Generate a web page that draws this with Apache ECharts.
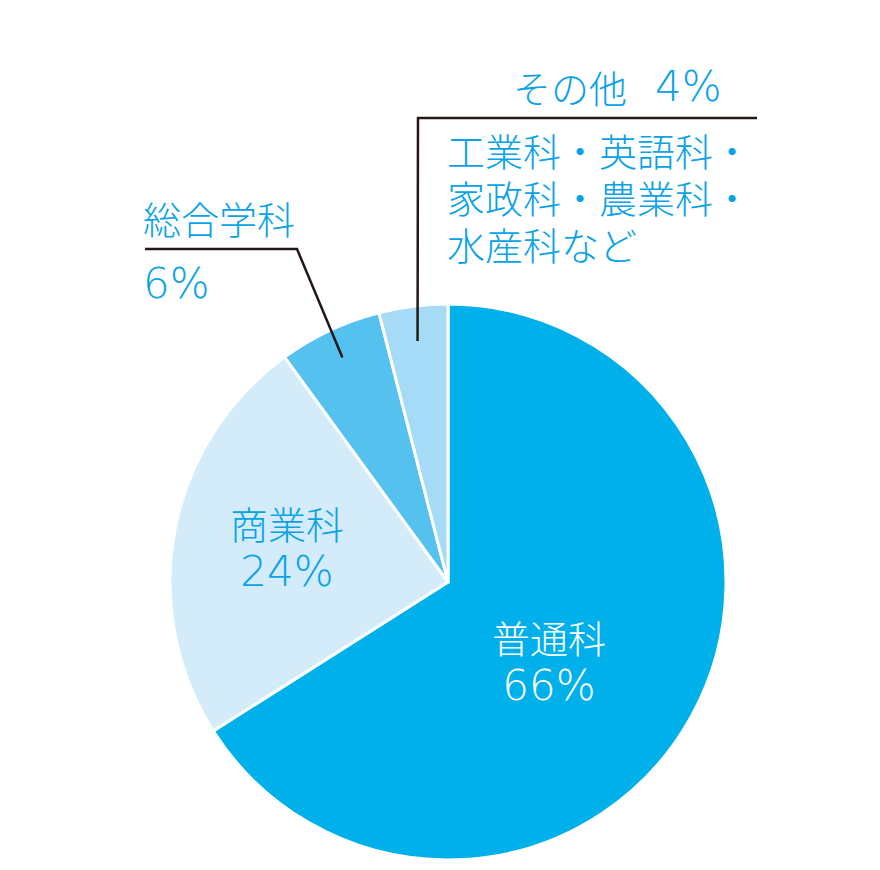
<!DOCTYPE html>
<html>
<head>
<meta charset="utf-8">
<script src="https://cdn.jsdelivr.net/npm/echarts@6/dist/echarts.min.js"></script>
<style>
html,body{margin:0;padding:0;background:#fff;}
#c{width:880px;height:870px;}
</style>
</head>
<body>
<div id="c"></div>
<script>
// ---- data ----
const categories = ['普通科', '商業科', '総合学科', 'その他'];
const values = [66, 24, 6, 4];
const otherDetail = ['工業科・英語科・', '家政科・農業科・', '水産科など'];

// ---- styles ----
const sliceColors = ['#00b0eb', '#d4ecfa', '#55c1ef', '#a6dbf7'];
const textBlue = '#08a2e6';
const FONT = '"Noto Sans CJK JP", "Noto Sans", sans-serif';
const NUMFONT = '"DejaVu Sans", "Noto Sans", sans-serif';
const CX = 448, CY = 582, R = 278;

// anchor point of leader line inside slice i, along its mid angle
const total = values.reduce((a, b) => a + b, 0);
function anchor(i, rr) {
  let before = 0;
  for (let k = 0; k < i; k++) before += values[k];
  const mid = (before + values[i] / 2) / total * Math.PI * 2; // clockwise from top
  return [CX + rr * Math.sin(mid), CY - rr * Math.cos(mid)];
}

const formatters = [
  (n, v) => '{w|' + n + '}\n{wn|' + v + '%}',
  (n, v) => '{b|' + n + '}\n{bn|' + v + '%}',
  (n, v) => '{g|' + n + '}\n{gn|' + v + '%}',
  (n, v) => '{t|' + n + '}{tn|' + v + '%}\n' + otherDetail.map(s => '{d|' + s + '}').join('\n')
];

const data = categories.map((name, i) => ({
  name: name,
  value: values[i],
  itemStyle: { color: sliceColors[i] },
  label: { formatter: formatters[i](name, values[i]) }
}));

const numStyle = (color, lh, extra) => Object.assign({
  fontFamily: NUMFONT, fontSize: 42, fontWeight: 200, color: color, lineHeight: lh
}, extra || {});
const cjkStyle = (color, lh, extra) => Object.assign({
  fontFamily: FONT, fontSize: 38, fontWeight: 300, color: color, lineHeight: lh
}, extra || {});

const lineStyle = { stroke: '#231815', lineWidth: 2.5, fill: null };

const chart = echarts.init(document.getElementById('c'), null, { renderer: 'svg' });
chart.setOption({
  backgroundColor: '#ffffff',
  animation: false,
  graphic: [
    { type: 'polyline', z: 10, silent: true,
      shape: { points: [anchor(2, 248), [297, 249], [145, 249]] }, style: lineStyle },
    { type: 'polyline', z: 10, silent: true,
      shape: { points: [anchor(3, 243), [418, 118], [757, 118]] }, style: lineStyle }
  ],
  series: [{
    type: 'pie',
    center: [CX, CY],
    radius: [0, R],
    startAngle: 90,
    clockwise: true,
    silent: true,
    emphasis: { disabled: true },
    itemStyle: { borderColor: '#ffffff', borderWidth: 3 },
    label: {
      show: true,
      position: 'inside',
      overflow: 'none',
      fontFamily: FONT,
      rich: {
        w: cjkStyle('#ffffff', 48, { align: 'center' }),
        wn: numStyle('#ffffff', 50, { align: 'center' }),
        b: cjkStyle(textBlue, 48, { align: 'center' }),
        bn: numStyle(textBlue, 50, { align: 'center' }),
        g: cjkStyle(textBlue, 66),
        gn: numStyle(textBlue, 66),
        t: cjkStyle(textBlue, 79, { padding: [0, 0, 0, 66] }),
        tn: numStyle(textBlue, 79, { padding: [0, 0, 0, 28] }),
        d: cjkStyle(textBlue, 47)
      }
    },
    labelLine: { show: false },
    labelLayout: function (p) {
      const i = p.dataIndex;
      if (i === 0) return { x: 549, y: 661, align: 'center', verticalAlign: 'middle' };
      if (i === 1) return { x: 287, y: 547, align: 'center', verticalAlign: 'middle' };
      if (i === 2) return { x: 143, y: 250, align: 'left', verticalAlign: 'middle' };
      return { x: 447, y: 47, align: 'left', verticalAlign: 'top' };
    },
    data: data
  }]
});
</script>
</body>
</html>
